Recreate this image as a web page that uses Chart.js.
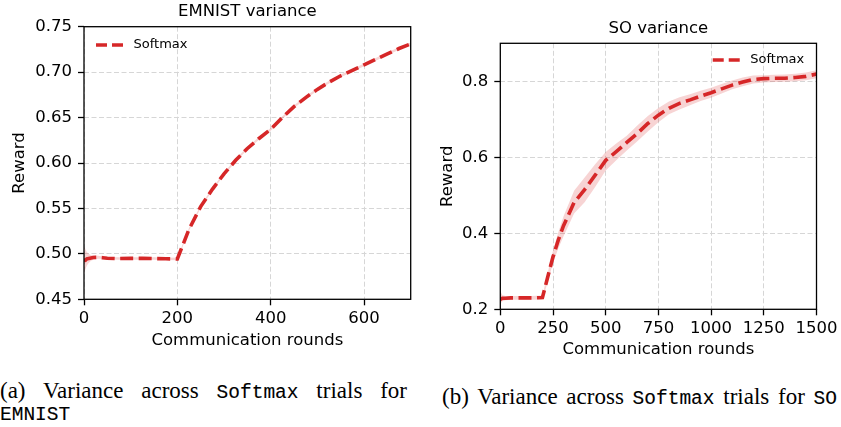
<!DOCTYPE html>
<html><head><meta charset="utf-8">
<script src="https://cdn.jsdelivr.net/npm/chart.js@4"></script>
<style>
html,body{margin:0;padding:0;background:#fff;}
body{width:841px;height:427px;position:relative;overflow:hidden;}
#c1{position:absolute;left:0;top:0;}
#c2{position:absolute;left:420px;top:0;}
.cap{position:absolute;font-family:'Liberation Serif','Times New Roman',serif;font-size:23px;line-height:21.5px;color:#000;text-align:justify;text-align-last:justify;}
.m{font-family:'Liberation Mono','Courier New',monospace;font-size:19.5px;-webkit-text-stroke:0.12px #000;}
</style></head><body>
<canvas id="c1" width="420" height="360"></canvas>
<canvas id="c2" width="421" height="360"></canvas>
<div class="cap" style="left:0;top:380px;width:407px">(a) Variance across <span class="m">Softmax</span> trials for</div>
<div class="cap" style="left:0;top:402px;text-align-last:left"><span class="m">EMNIST</span></div>
<div class="cap" style="left:442px;top:386px;width:395px">(b) Variance across <span class="m">Softmax</span> trials for <span class="m">SO</span></div>
<script>
// ---- EMNIST panel ----
const emnistTitle = 'EMNIST variance';
const emnistX    = [0, 3, 6, 10, 15, 20, 30, 40, 50, 75, 100, 125, 150, 175, 200, 225, 250, 275, 300, 325, 350, 375, 400, 425, 450, 475, 500, 525, 550, 575, 600, 625, 650, 675, 700];
const emnistMean = [0.4935, 0.493, 0.4945, 0.495, 0.4955, 0.496, 0.4962, 0.4958, 0.4952, 0.4948, 0.495, 0.495, 0.4948, 0.4946, 0.4944, 0.527, 0.552, 0.571, 0.588, 0.603, 0.616, 0.627, 0.637, 0.650, 0.662, 0.672, 0.681, 0.689, 0.696, 0.702, 0.708, 0.714, 0.720, 0.726, 0.731];
const emnistLow  = [0.479, 0.483, 0.487, 0.490, 0.4925, 0.4935, 0.4945, 0.4945, 0.4938, 0.4934, 0.4936, 0.4936, 0.4934, 0.4932, 0.493, 0.5255, 0.5505, 0.5695, 0.5865, 0.6015, 0.6145, 0.6255, 0.6355, 0.6485, 0.6605, 0.6705, 0.6795, 0.6875, 0.6945, 0.7005, 0.7065, 0.7125, 0.7185, 0.7245, 0.7295];
const emnistHigh = [0.508, 0.505, 0.502, 0.500, 0.4985, 0.4985, 0.498, 0.4972, 0.4966, 0.4962, 0.4964, 0.4964, 0.4962, 0.496, 0.4958, 0.5285, 0.5535, 0.5725, 0.5895, 0.6045, 0.6175, 0.6285, 0.6385, 0.6515, 0.6635, 0.6735, 0.6825, 0.6905, 0.6975, 0.7035, 0.7095, 0.7155, 0.7215, 0.7275, 0.7325];
const emnistXTicks = [0, 200, 400, 600];
const emnistYTicks = [0.45, 0.50, 0.55, 0.60, 0.65, 0.70, 0.75];

// ---- SO panel ----
const soTitle = 'SO variance';
const soX    = [0, 10, 25, 50, 100, 150, 200, 225, 250, 275, 300, 350, 400, 450, 500, 550, 600, 650, 700, 750, 800, 850, 900, 950, 1000, 1050, 1100, 1150, 1200, 1250, 1300, 1350, 1400, 1450, 1500];
const soMean = [0.226, 0.229, 0.229, 0.230, 0.230, 0.230, 0.231, 0.285, 0.338, 0.382, 0.420, 0.481, 0.515, 0.553, 0.592, 0.615, 0.639, 0.663, 0.689, 0.711, 0.729, 0.742, 0.751, 0.761, 0.770, 0.780, 0.790, 0.798, 0.805, 0.807, 0.808, 0.808, 0.810, 0.813, 0.819];
const soLow  = [0.214, 0.221, 0.224, 0.225, 0.225, 0.225, 0.226, 0.272, 0.322, 0.360, 0.392, 0.452, 0.482, 0.522, 0.565, 0.592, 0.618, 0.642, 0.668, 0.692, 0.713, 0.726, 0.737, 0.748, 0.757, 0.768, 0.779, 0.787, 0.794, 0.797, 0.798, 0.799, 0.800, 0.803, 0.808];
const soHigh = [0.248, 0.237, 0.235, 0.235, 0.235, 0.235, 0.236, 0.296, 0.355, 0.402, 0.445, 0.512, 0.547, 0.582, 0.614, 0.636, 0.657, 0.684, 0.709, 0.730, 0.747, 0.758, 0.766, 0.775, 0.783, 0.793, 0.802, 0.810, 0.815, 0.816, 0.817, 0.818, 0.820, 0.823, 0.829];
const soXTicks = [0, 250, 500, 750, 1000, 1250, 1500];
const soYTicks = [0.2, 0.4, 0.6, 0.8];

const seriesLabel = 'Softmax';
const xLabel = 'Communication rounds';
const yLabel = 'Reward';

Chart.defaults.font.family = "'DejaVu Sans', sans-serif";
Chart.defaults.color = '#000';

const RED = '#d62728';
const BAND = 'rgba(214,39,40,0.2)';
const FONT = {family: "'DejaVu Sans', sans-serif", size: 16.5, weight: 'normal'};

const pts = (xs, ys) => xs.map((x, i) => ({x: x, y: ys[i]}));

const framePlugin = {
  id: 'frame',
  afterDatasetsDraw(chart) {
    const {ctx, chartArea: a} = chart;
    ctx.save();
    ctx.setLineDash([]);
    ctx.strokeStyle = '#000';
    ctx.lineWidth = 1.3;
    ctx.strokeRect(a.left, a.top, a.right - a.left, a.bottom - a.top);
    ctx.restore();
  }
};

const legendPlugin = {
  id: 'inlegend',
  afterDraw(chart, args, opts) {
    const {ctx, chartArea: a} = chart;
    ctx.save();
    ctx.font = "13px 'DejaVu Sans', sans-serif";
    const tw = ctx.measureText(opts.text).width;
    let x0;
    if (opts.align === 'right') x0 = a.right - opts.offX - tw - 10.5 - 27;
    else x0 = a.left + opts.offX;
    const y = a.top + opts.offY;
    ctx.strokeStyle = RED;
    ctx.lineWidth = 3.6;
    ctx.setLineDash([11, 5]);
    ctx.beginPath();
    ctx.moveTo(x0, y);
    ctx.lineTo(x0 + 27, y);
    ctx.stroke();
    ctx.setLineDash([]);
    ctx.fillStyle = '#000';
    ctx.textBaseline = 'middle';
    ctx.textAlign = 'left';
    ctx.fillText(opts.text, x0 + 27 + 10.5, y);
    ctx.restore();
  }
};

function makeChart(id, cfg) {
  const gridCommon = {
    color: '#d6d6d6', lineWidth: 1, borderDash: [5, 2.5],
    tickColor: '#000', tickLength: 6, tickWidth: 1.3, tickBorderDash: []
  };
  return new Chart(document.getElementById(id), {
    type: 'line',
    data: {
      datasets: [
        {label: 'low', data: pts(cfg.x, cfg.low), borderColor: 'rgba(0,0,0,0)', borderWidth: 0, pointRadius: 0, fill: false, tension: 0},
        {label: 'high', data: pts(cfg.x, cfg.high), borderColor: 'rgba(0,0,0,0)', borderWidth: 0, pointRadius: 0, fill: '-1', backgroundColor: BAND, tension: 0},
        {label: seriesLabel, data: pts(cfg.x, cfg.mean), borderColor: RED, borderWidth: 3.6, borderDash: [13, 5.5], pointRadius: 0, fill: false, tension: 0}
      ]
    },
    options: {
      responsive: false, animation: false, devicePixelRatio: 1,
      layout: {padding: {left: 0, right: cfg.padRight, top: 0, bottom: 0}},
      plugins: {
        legend: {display: false},
        tooltip: {enabled: false},
        title: {display: true, text: cfg.title, fullSize: false, color: '#000', font: FONT, padding: cfg.titlePad},
        inlegend: {text: seriesLabel, align: cfg.legAlign, offX: cfg.legX, offY: cfg.legY}
      },
      scales: {
        x: {
          type: 'linear', min: cfg.xMin, max: cfg.xMax,
          afterBuildTicks: ax => { ax.ticks = cfg.xTicks.map(v => ({value: v})); },
          afterFit: ax => { ax.height = cfg.xAxisH; },
          ticks: {font: FONT, color: '#000', padding: 3.5, maxRotation: 0, autoSkip: false, callback: v => String(v)},
          grid: gridCommon,
          border: {display: false, dash: [5, 2.5]},
          title: {display: true, text: xLabel, font: FONT, color: '#000', padding: {top: 0, bottom: cfg.xTitleB}}
        },
        y: {
          type: 'linear', min: cfg.yMin, max: cfg.yMax,
          afterBuildTicks: ax => { ax.ticks = cfg.yTicks.map(v => ({value: v})); },
          afterFit: ax => { ax.width = cfg.yAxisW; },
          ticks: {font: FONT, color: '#000', padding: 6, autoSkip: false, callback: v => v.toFixed(cfg.yDec)},
          grid: gridCommon,
          border: {display: false, dash: [5, 2.5]},
          title: {display: true, text: yLabel, font: FONT, color: '#000', padding: {top: cfg.yTitleT, bottom: 0}}
        }
      }
    },
    plugins: [framePlugin, legendPlugin]
  });
}

makeChart('c1', {
  title: emnistTitle, x: emnistX, mean: emnistMean, low: emnistLow, high: emnistHigh,
  xTicks: emnistXTicks, yTicks: emnistYTicks, xMin: 0, xMax: 700, yMin: 0.45, yMax: 0.75, yDec: 2,
  padRight: 9.3, titlePad: {top: 1.4, bottom: 5.5}, xAxisH: 60.7, yAxisW: 84, xTitleB: 9.4, yTitleT: 9.6,
  legAlign: 'left', legX: 12, legY: 18.3
});
makeChart('c2', {
  title: soTitle, x: soX, mean: soMean, low: soLow, high: soHigh,
  xTicks: soXTicks, yTicks: soYTicks, xMin: 0, xMax: 1500, yMin: 0.2, yMax: 0.9, yDec: 1,
  padRight: 22, titlePad: {top: 18.4, bottom: 5.1}, xAxisH: 50.7, yAxisW: 80.3, xTitleB: 0.1, yTitleT: 17.8,
  legAlign: 'right', legX: 12.3, legY: 16.7
});
</script>
</body></html>
